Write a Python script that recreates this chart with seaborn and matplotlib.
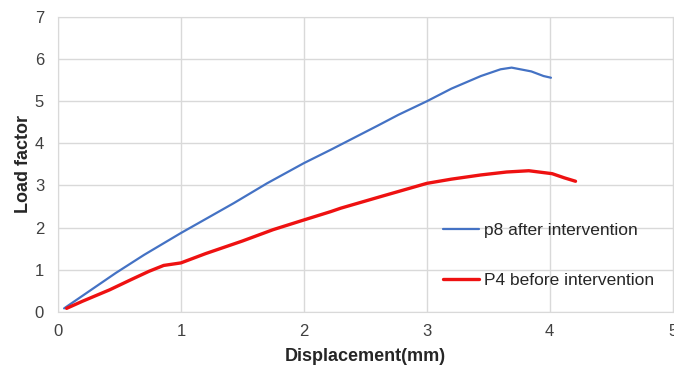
import pandas as pd
import matplotlib.pyplot as plt
import seaborn as sns

# Daten
p8_x = [0.05, 0.20, 0.47, 0.70, 1.00, 1.20, 1.43, 1.70, 2.00, 2.22, 2.40, 2.60, 2.77, 3.00, 3.20, 3.44, 3.60, 3.69, 3.85, 3.95, 4.01]
p8_y = [0.08, 0.38, 0.92, 1.35, 1.87, 2.20, 2.58, 3.05, 3.53, 3.85, 4.12, 4.42, 4.68, 5.00, 5.30, 5.60, 5.76, 5.80, 5.71, 5.60, 5.56]
p4_x = [0.07, 0.20, 0.42, 0.60, 0.74, 0.86, 1.00, 1.20, 1.50, 1.75, 2.00, 2.22, 2.30, 2.63, 3.00, 3.20, 3.44, 3.65, 3.83, 4.02, 4.12, 4.21]
p4_y = [0.08, 0.25, 0.52, 0.77, 0.96, 1.10, 1.16, 1.38, 1.68, 1.95, 2.18, 2.38, 2.46, 2.74, 3.05, 3.15, 3.25, 3.32, 3.35, 3.28, 3.18, 3.10]
labels = ["p8 after intervention", "P4 before intervention"]

df = pd.concat([
    pd.DataFrame({"x": p8_x, "y": p8_y, "serie": labels[0]}),
    pd.DataFrame({"x": p4_x, "y": p4_y, "serie": labels[1]}),
])

sns.set_style("white")
plt.rcParams["font.family"] = ["Liberation Sans", "DejaVu Sans"]

fig = plt.figure(figsize=(6.74, 3.72), dpi=100)
ax = fig.add_axes([0.086, 0.162, 0.912, 0.792])

farben = {labels[0]: "#4472C4", labels[1]: "#EE1111"}
sns.lineplot(data=df, x="x", y="y", hue="serie", palette=farben, sort=False,
             estimator=None, ax=ax, legend=False)
ax.lines[0].set_linewidth(1.6)
ax.lines[1].set_linewidth(2.4)

ax.set_xlim(0, 5)
ax.set_ylim(0, 7)
ax.set_xticks(range(0, 6))
ax.set_yticks(range(0, 8))
ax.grid(True, color="#d9d9d9", linewidth=1)
for s in ax.spines.values():
    s.set_color("#d9d9d9")
ax.tick_params(length=0, labelsize=12, colors="#404040")
ax.tick_params(axis="y", pad=10)
ax.tick_params(axis="x", pad=9)

ax.set_xlabel("Displacement(mm)", fontweight="bold", fontsize=13, labelpad=6)
ax.set_ylabel("Load factor", fontweight="bold", fontsize=13, labelpad=2)

ax.legend(ax.lines, labels, loc="upper left", bbox_to_anchor=(0.615, 0.325),
          frameon=False, fontsize=12.5, labelspacing=2.0, handlelength=2.1,
          handletextpad=0.25, borderaxespad=0)

fig.savefig("out.png", dpi=100)
